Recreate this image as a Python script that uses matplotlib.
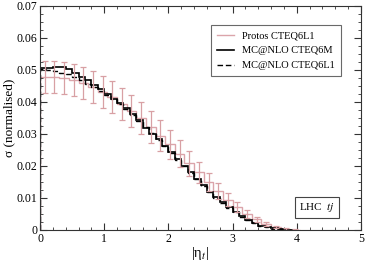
import numpy as np
import matplotlib.pyplot as plt
from matplotlib.ticker import MultipleLocator

# MC@NLO histograms, bin width 0.1 from 0 to 4
edges_mc = np.round(np.arange(0, 4.01, 0.1), 2)
mc_cteq6m = [0.0505, 0.0506, 0.0510, 0.0508, 0.0502, 0.0490, 0.0478, 0.0468, 0.0452, 0.0440,
             0.0425, 0.0410, 0.0396, 0.0380, 0.0362, 0.0344, 0.0320, 0.0300, 0.0284, 0.0262,
             0.0243, 0.0222, 0.0200, 0.0180, 0.0160, 0.0140, 0.0120, 0.0103, 0.0088, 0.0072,
             0.0057, 0.0043, 0.0031, 0.0022, 0.0014, 0.0009, 0.0005, 0.0002, 0.0001, 0.0000]
mc_cteq6l1 = [0.0502, 0.0500, 0.0497, 0.0492, 0.0486, 0.0478, 0.0468, 0.0456, 0.0446, 0.0433,
              0.0422, 0.0408, 0.0394, 0.0378, 0.0360, 0.0341, 0.0322, 0.0302, 0.0282, 0.0262,
              0.0241, 0.0220, 0.0199, 0.0178, 0.0158, 0.0138, 0.0119, 0.0101, 0.0085, 0.0070,
              0.0055, 0.0042, 0.0030, 0.0021, 0.0014, 0.0008, 0.0004, 0.0002, 0.0001, 0.0000]

# Protos histogram, bin width 0.15
edges_pr = np.round(np.arange(0, 4.06, 0.15), 3)
protos = [0.0478, 0.0478, 0.0475, 0.0468, 0.0458, 0.0448, 0.0432, 0.0415, 0.0395, 0.0372,
          0.0350, 0.0322, 0.0295, 0.0268, 0.0238, 0.0208, 0.0180, 0.0150, 0.0122, 0.0095,
          0.0072, 0.0050, 0.0033, 0.0019, 0.0009, 0.0003, 0.0001]
protos_err = [0.0050, 0.0050, 0.0050, 0.0050, 0.0050, 0.0050, 0.0050, 0.0050, 0.0050, 0.0050,
              0.0050, 0.0050, 0.0048, 0.0045, 0.0042, 0.0038, 0.0033, 0.0028, 0.0024, 0.0020,
              0.0016, 0.0012, 0.0009, 0.0006, 0.0004, 0.0002, 0.0001]

plt.rcParams['font.family'] = ['Liberation Serif', 'DejaVu Serif']
plt.rcParams['mathtext.fontset'] = 'stix'

fig = plt.figure(figsize=(3.66, 2.62), dpi=100)
ax = fig.add_axes([40 / 366, 32 / 262, 321 / 366, 224 / 262])

pink = '#dba4aa'
centres_pr = (edges_pr[:-1] + edges_pr[1:]) / 2
ax.stairs(protos, edges_pr, color=pink, lw=1.0, label='Protos CTEQ6L1')
ax.errorbar(centres_pr, protos, yerr=protos_err, fmt='none', ecolor='#d8a0a4',
            elinewidth=0.9, capsize=2.5, capthick=0.9)
ax.stairs(mc_cteq6m, edges_mc, color='black', lw=1.2, label='MC@NLO CTEQ6M')
ax.stairs(mc_cteq6l1, edges_mc, color='black', lw=1.0, ls=(0, (4, 2)),
          label='MC@NLO CTEQ6L1')

ax.set_xlim(0, 5)
ax.set_ylim(0, 0.07)
ax.xaxis.set_major_locator(MultipleLocator(1))
ax.xaxis.set_minor_locator(MultipleLocator(0.2))
ax.yaxis.set_minor_locator(MultipleLocator(0.0025))
ax.set_yticks(np.arange(0, 0.071, 0.01))
ax.set_yticklabels(['0', '0.01', '0.02', '0.03', '0.04', '0.05', '0.06', '0.07'])
ax.tick_params(which='both', direction='in', top=True, right=True, labelsize=8.5,
               color='#333333', pad=2)
ax.tick_params(which='major', length=5)
ax.tick_params(which='minor', length=2.5)
for s in ax.spines.values():
    s.set_color('#333333')

ax.set_ylabel('σ (normalised)', fontsize=9.5, labelpad=1)
ax.set_xlabel('|η$_{t}$|', fontsize=10.5, labelpad=0)

leg = ax.legend(loc='upper right', bbox_to_anchor=(0.955, 0.94), fontsize=7.5,
                handlelength=1.6, frameon=True, fancybox=False, borderpad=0.6,
                labelspacing=0.55)
leg.get_frame().set_edgecolor('#444444')
leg.get_frame().set_linewidth(0.8)

ax.text(0.92, 0.1, r'LHC  $tj$', transform=ax.transAxes, fontsize=8,
        ha='right', va='center',
        bbox=dict(boxstyle='square,pad=0.35', fc='white', ec='#444444', lw=0.8))

fig.savefig('out.png', dpi=100)
